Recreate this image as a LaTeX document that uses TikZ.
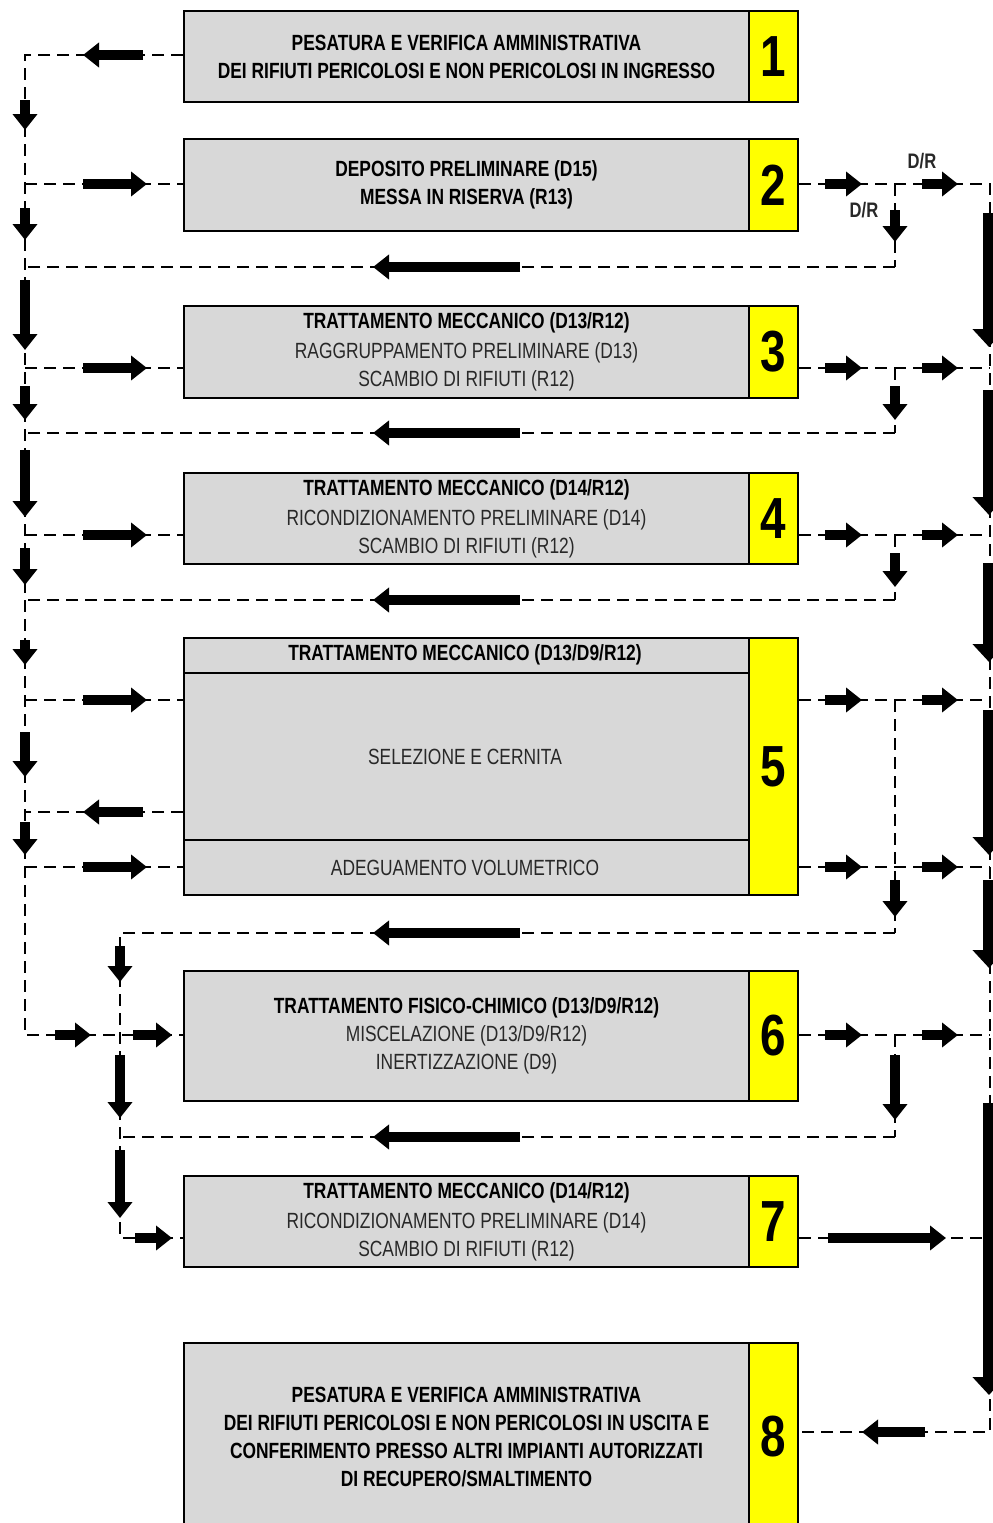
\documentclass[tikz,border=0pt]{standalone}
\usepackage{fontspec}
\setmainfont{Liberation Sans}
\newfontfamily\cond[FakeStretch=0.79]{Liberation Sans}
\usetikzlibrary{arrows.meta,calc}
\definecolor{boxgray}{RGB}{216,216,216}
\definecolor{boxyellow}{RGB}{255,255,0}
\definecolor{txtgray}{RGB}{40,40,40}
\begin{document}
\begin{tikzpicture}[x=1pt,y=-1pt,
  gbox/.style={draw=black, line width=2pt, fill=boxgray, minimum width=565pt, anchor=north west,
    inner sep=0pt, align=center, text=txtgray, font=\cond\fontsize{22}{28}\selectfont},
  ybox/.style={draw=black, line width=2pt, fill=boxyellow, minimum width=49pt, anchor=north west,
    inner sep=0pt, font=\cond\bfseries\fontsize{58}{58}\selectfont},
  txt/.style={text=txtgray, font=\cond\fontsize{22}{28}\selectfont, inner sep=0pt},
  lbl/.style={text=txtgray, font=\cond\bfseries\fontsize{21}{21}\selectfont, inner sep=0pt},
  dline/.style={line width=2.6pt, dash pattern=on 12pt off 7pt},
  fat/.style={line width=10pt, -{Triangle[width=24pt,length=16pt]}},
  fatbar/.style={line width=13pt, -{Triangle[width=32pt,length=18pt]}}
]
\useasboundingbox (0,0) rectangle (993,1523);
\fill[white] (0,0) rectangle (993,1523);

% ---------- boxes ----------
\node[gbox, minimum height=91pt] (b1) at (183,10)
  {\bfseries\color{black}PESATURA E VERIFICA AMMINISTRATIVA\\ \bfseries\color{black}DEI RIFIUTI PERICOLOSI E NON PERICOLOSI IN INGRESSO};
\node[ybox, minimum height=91pt] (n1) at (748,10) {1};

\node[gbox, minimum height=92pt] (b2) at (183,138)
  {\bfseries\color{black}DEPOSITO PRELIMINARE (D15)\\ \bfseries\color{black}MESSA IN RISERVA (R13)};
\node[ybox, minimum height=92pt] (n2) at (748,138) {2};

\node[gbox, minimum height=92pt] (b3) at (183,305)
  {{\bfseries\color{black}TRATTAMENTO MECCANICO (D13/R12)}\\[2pt] RAGGRUPPAMENTO PRELIMINARE (D13)\\ SCAMBIO DI RIFIUTI (R12)};
\node[ybox, minimum height=92pt] (n3) at (748,305) {3};

\node[gbox, minimum height=91pt] (b4) at (183,472)
  {{\bfseries\color{black}TRATTAMENTO MECCANICO (D14/R12)}\\[2pt] RICONDIZIONAMENTO PRELIMINARE (D14)\\ SCAMBIO DI RIFIUTI (R12)};
\node[ybox, minimum height=91pt] (n4) at (748,472) {4};

\node[gbox, minimum height=257pt] (b5) at (183,637) {};
\node[ybox, minimum height=257pt] (n5) at (748,637) {5};
\draw[line width=2pt] (b5.west |- 0,673) -- (n5.west |- 0,673);
\draw[line width=2pt] (b5.west |- 0,840) -- (n5.west |- 0,840);
\node[txt, font=\cond\bfseries\fontsize{22}{28}\selectfont, text=black] (t5a) at (465,655) {TRATTAMENTO MECCANICO (D13/D9/R12)};
\node[txt] (t5b) at (465,757) {SELEZIONE E CERNITA};
\node[txt] (t5c) at (465,868) {ADEGUAMENTO VOLUMETRICO};

\node[gbox, minimum height=130pt] (b6) at (183,970)
  {{\bfseries\color{black}TRATTAMENTO FISICO-CHIMICO (D13/D9/R12)}\\ MISCELAZIONE (D13/D9/R12)\\ INERTIZZAZIONE (D9)};
\node[ybox, minimum height=130pt] (n6) at (748,970) {6};

\node[gbox, minimum height=91pt] (b7) at (183,1175)
  {{\bfseries\color{black}TRATTAMENTO MECCANICO (D14/R12)}\\[2pt] RICONDIZIONAMENTO PRELIMINARE (D14)\\ SCAMBIO DI RIFIUTI (R12)};
\node[ybox, minimum height=91pt] (n7) at (748,1175) {7};

\node[gbox, minimum height=188pt] (b8) at (183,1342)
  {\bfseries\color{black}PESATURA E VERIFICA AMMINISTRATIVA\\ \bfseries\color{black}DEI RIFIUTI PERICOLOSI E NON PERICOLOSI IN USCITA E\\
   \bfseries\color{black}CONFERIMENTO PRESSO ALTRI IMPIANTI AUTORIZZATI\\ \bfseries\color{black}DI RECUPERO/SMALTIMENTO};
\node[ybox, minimum height=188pt] (n8) at (748,1342) {8};

% ---------- junction coordinates ----------
\foreach \n/\y in {1/55,2/184,f2/267,3/368,f3/433,4/535,f4/600,5a/700,5b/812,5c/867,6/1035}
  \coordinate (L\n) at (25,\y);
\foreach \n/\y in {t/933,6/1035,f6/1137,7/1238}
  \coordinate (M\n) at (120,\y);
\foreach \n/\y in {2/184,f2/267,3/368,f3/433,4/535,f4/600,5a/700,5c/867,f5/933,6/1035,f6/1137}
  \coordinate (R\n) at (895,\y);
\foreach \n/\y in {2/184,3/368,4/535,5a/700,5c/867,6/1035,7/1238,8/1432}
  \coordinate (O\n) at (990,\y);

% ---------- dashed connectors ----------
\draw[dline] (b1.west |- L1) -- (L1) -- (L6) -- (b6.west |- L6);
\draw[dline] (L2) -- (b2.west |- L2);
\draw[dline] (L3) -- (b3.west |- L3);
\draw[dline] (L4) -- (b4.west |- L4);
\draw[dline] (L5a) -- (b5.west |- L5a);
\draw[dline] (b5.west |- L5b) -- (L5b);
\draw[dline] (L5c) -- (b5.west |- L5c);
\draw[dline] (Rf2) -- (Lf2);
\draw[dline] (Rf3) -- (Lf3);
\draw[dline] (Rf4) -- (Lf4);
\draw[dline] (Rf5) -- (Mt) -- (M7) -- (b7.west |- M7);
\draw[dline] (Rf6) -- (Mf6);

\draw[dline] (n2.east |- O2) -- (O2) -- (O8) -- (n8.east |- O8);
\draw[dline] (R2) -- (Rf2);
\draw[dline] (n3.east |- O3) -- (O3);
\draw[dline] (R3) -- (Rf3);
\draw[dline] (n4.east |- O4) -- (O4);
\draw[dline] (R4) -- (Rf4);
\draw[dline] (n5.east |- O5a) -- (O5a);
\draw[dline] (R5a) -- (Rf5);
\draw[dline] (n5.east |- O5c) -- (O5c);
\draw[dline] (n6.east |- O6) -- (O6);
\draw[dline] (R6) -- (Rf6);
\draw[dline] (n7.east |- O7) -- (O7);

% ---------- thick arrows: left side ----------
\draw[fat] ($(L1)+(118,0)$) -- ($(L1)+(58,0)$);
\draw[fat] ($(L5b)+(118,0)$) -- ($(L5b)+(58,0)$);
\foreach \c in {L2,L3,L4,L5a,L5c}
  \draw[fat] ($(\c)+(58,0)$) -- ($(\c)+(122,0)$);
\foreach \a/\b in {100/130,208/240,280/350,386/420,450/517,548/585,640/665,732/777,822/855}
  \draw[fat] (25,\a) -- (25,\b);
\draw[fat] ($(L6)+(30,0)$) -- ($(L6)+(66,0)$);
\draw[fat] ($(M6)+(13,0)$) -- ($(M6)+(52,0)$);
\draw[fat] ($(M7)+(15,0)$) -- ($(M7)+(52,0)$);
\foreach \a/\b in {946/982,1055/1118,1150/1218}
  \draw[fat] (120,\a) -- (120,\b);

% ---------- feedback arrows ----------
\foreach \y in {267,433,600,933,1137}
  \draw[fat] (520,\y) -- (373,\y);

% ---------- thick arrows: right side ----------
\foreach \c in {R2,R3,R4,R5a,R5c,R6}{
  \draw[fat] ($(\c)+(-70,0)$) -- ($(\c)+(-33,0)$);
  \draw[fat] ($(\c)+(27,0)$) -- ($(\c)+(63,0)$);
}
\foreach \a/\b in {210/242,386/420,553/587,880/917,1055/1120}
  \draw[fat] (895,\a) -- (895,\b);
\draw[fat] ($(O7)+(-162,0)$) -- ($(O7)+(-44,0)$);
\draw[fat] ($(O8)+(-65,0)$) -- ($(O8)+(-128,0)$);
\foreach \a/\b in {213/347,390/515,563/662,710/855,880/968,1103/1395}
  \draw[fatbar] (989,\a) -- (989,\b);

% ---------- labels ----------
\node[lbl] (dr1) at (922,161) {D/R};
\node[lbl] (dr2) at (864,210) {D/R};
\end{tikzpicture}
\end{document}
